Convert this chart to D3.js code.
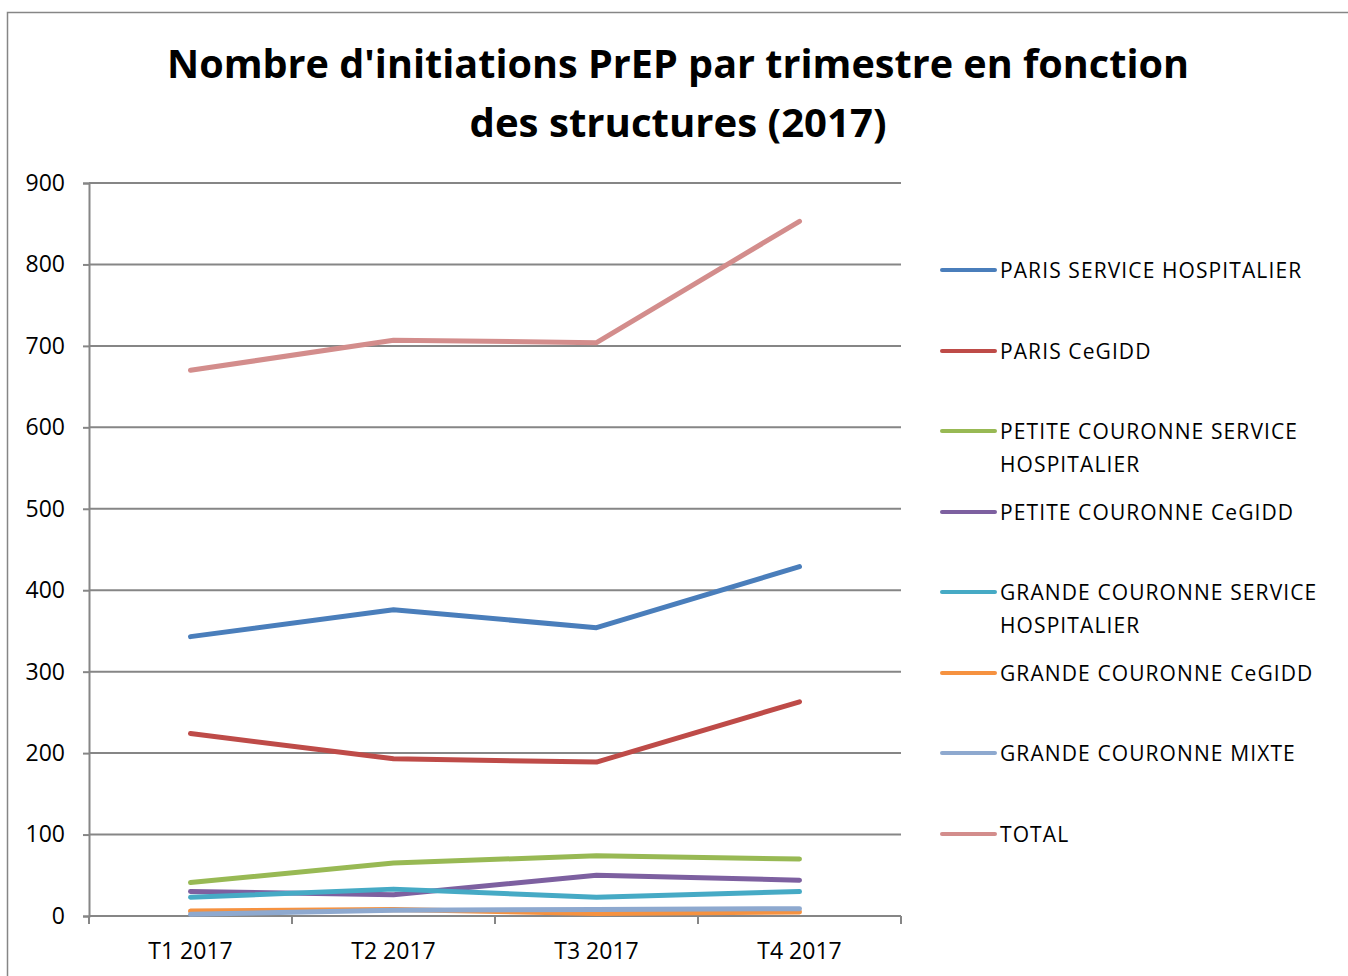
<!DOCTYPE html>
<html>
<head>
<meta charset="utf-8">
<script src="https://cdn.jsdelivr.net/npm/d3@7"></script>
<style>
  body { margin: 0; background: #fff; }
  text { font-family: "Open Sans", "Noto Sans", sans-serif; fill: #000; }
</style>
</head>
<body>
<svg width="1348" height="976"></svg>
<script>
var quarters = ["T1 2017", "T2 2017", "T3 2017", "T4 2017"];
var seriesNames = ["PARIS SERVICE HOSPITALIER", "PARIS CeGIDD", "PETITE COURONNE SERVICE HOSPITALIER",
  "PETITE COURONNE CeGIDD", "GRANDE COURONNE SERVICE HOSPITALIER", "GRANDE COURONNE CeGIDD",
  "GRANDE COURONNE MIXTE", "TOTAL"];
var parisHosp = [343, 376, 354, 429];
var parisCegidd = [224, 193, 189, 263];
var petiteHosp = [41, 65, 74, 70];
var petiteCegidd = [30, 26, 50, 44];
var grandeHosp = [23, 33, 23, 30];
var grandeCegidd = [6, 8, 3, 5];
var grandeMixte = [2, 7, 8, 9];
var total = [670, 707, 704, 853];
var colors = ["#4A7EBB", "#BE4B48", "#98B954", "#7D60A0", "#46AAC5", "#F69240", "#8EA9CF", "#D38D8C"];
var yTicks = [0, 100, 200, 300, 400, 500, 600, 700, 800, 900];

var allSeries = [parisHosp, parisCegidd, petiteHosp, petiteCegidd, grandeHosp, grandeCegidd, grandeMixte, total];

var svg = d3.select("svg");

// chart frame
svg.append("path").attr("d", "M7.5,976 L7.5,12.5 L1348,12.5")
  .attr("fill", "none").attr("stroke", "#868686").attr("stroke-width", 1.5);

// title
var title = svg.append("text").attr("text-anchor", "middle").attr("font-weight", "bold").attr("font-size", 40);
title.append("tspan").attr("x", 678).attr("y", 78).attr("textLength", 1022).attr("lengthAdjust", "spacingAndGlyphs")
  .text("Nombre d'initiations PrEP par trimestre en fonction");
title.append("tspan").attr("x", 678).attr("y", 137).attr("textLength", 417).attr("lengthAdjust", "spacingAndGlyphs")
  .text("des structures (2017)");

var xBand = d3.scaleBand().domain(quarters).range([89, 901]);
var yScale = d3.scaleLinear().domain([0, 900]).range([916, 183]);
var xPoint = function (q) { return xBand(q) + xBand.bandwidth() / 2; };

// gridlines
svg.append("g").selectAll("line").data(yTicks.slice(1)).enter().append("line")
  .attr("x1", 89).attr("x2", 901)
  .attr("y1", function (d) { return yScale(d); }).attr("y2", function (d) { return yScale(d); })
  .attr("stroke", "#868686").attr("stroke-width", 2);

// y axis
var yAxis = d3.axisLeft(yScale).tickValues(yTicks).tickSize(6).tickPadding(18);
var yG = svg.append("g").attr("transform", "translate(89,0)").call(yAxis);
yG.selectAll("path, line").attr("stroke", "#868686").attr("stroke-width", 2);
yG.selectAll("text").attr("font-size", 23).attr("font-family", "Open Sans").attr("fill", "#000");

// x axis
var xAxis = d3.axisBottom(xBand).tickSize(0).tickPadding(27);
var xG = svg.append("g").attr("transform", "translate(0,916)").call(xAxis);
xG.select("path").attr("stroke", "#868686").attr("stroke-width", 2).attr("d", "M89,0H901");
xG.selectAll("text").attr("font-size", 23).attr("font-family", "Open Sans").attr("fill", "#000");
xG.selectAll("line.sep").data(d3.range(quarters.length + 1)).enter().append("line").attr("class", "sep")
  .attr("x1", function (i) { return 89 + i * xBand.bandwidth(); })
  .attr("x2", function (i) { return 89 + i * xBand.bandwidth(); })
  .attr("y1", 0).attr("y2", 8).attr("stroke", "#868686").attr("stroke-width", 2);

// lines
var line = d3.line().x(function (d, i) { return xPoint(quarters[i]); }).y(function (d) { return yScale(d); });
svg.append("g").selectAll("path").data(allSeries).enter().append("path")
  .attr("d", line).attr("fill", "none")
  .attr("stroke", function (d, i) { return colors[i]; })
  .attr("stroke-width", 5).attr("stroke-linecap", "round").attr("stroke-linejoin", "round");

// legend
var legendY = [270, 351, 431, 512, 592, 673, 753, 834];
var leg = svg.append("g").selectAll("g").data(seriesNames).enter().append("g")
  .attr("transform", function (d, i) { return "translate(0," + legendY[i] + ")"; });
leg.append("line").attr("x1", 942).attr("x2", 995).attr("y1", 0).attr("y2", 0)
  .attr("stroke", function (d, i) { return colors[i]; }).attr("stroke-width", 4).attr("stroke-linecap", "round");
leg.each(function (d) {
  var t = d3.select(this).append("text").attr("x", 1000).attr("y", 8).attr("font-size", 21).attr("letter-spacing", 1.1);
  var parts = d.indexOf("SERVICE HOSPITALIER") > 0 && d.indexOf("PARIS") < 0
    ? [d.replace(" HOSPITALIER", ""), "HOSPITALIER"] : [d];
  parts.forEach(function (p, j) {
    t.append("tspan").attr("x", 1000).attr("dy", j === 0 ? 0 : 33).text(p);
  });
});
</script>
</body>
</html>
